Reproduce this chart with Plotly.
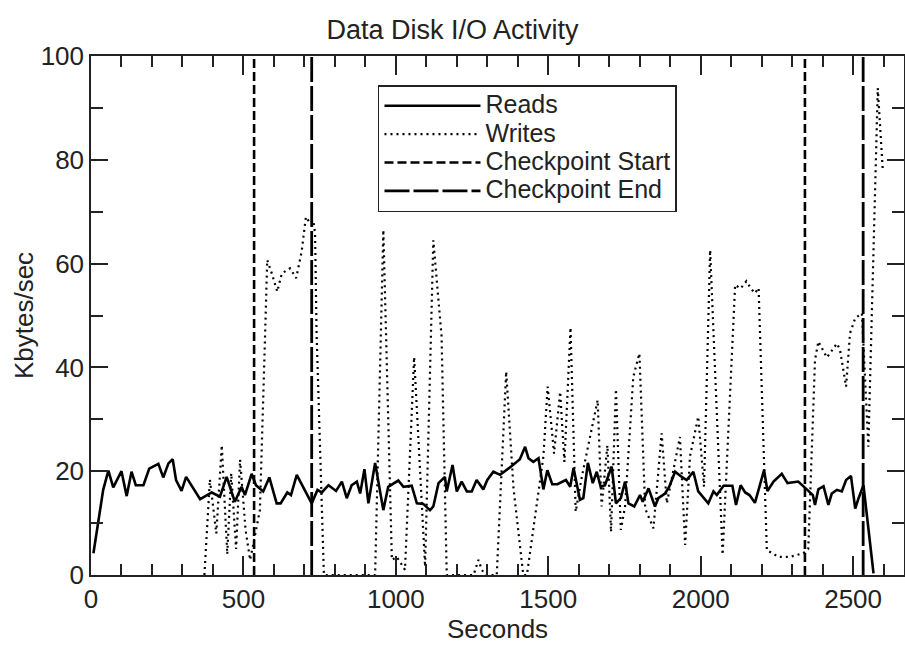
import plotly.graph_objects as go

# ---- data ----
reads_t = [8, 40, 57, 73, 100, 117, 133, 147, 172, 191, 221, 237, 254, 268, 279, 297, 312, 358, 396, 423,
           445, 472, 494, 505, 527, 541, 565, 585, 609, 622, 644, 656, 675, 724, 743, 757, 779, 804, 823, 839,
           855, 872, 883, 897, 910, 932, 959, 975, 1008, 1025, 1052, 1069, 1090, 1112, 1123, 1140, 1161, 1167,
           1186, 1200, 1216, 1233, 1249, 1265, 1287, 1300, 1320, 1342, 1378, 1407, 1424, 1435, 1451, 1468, 1484,
           1497, 1513, 1530, 1558, 1572, 1583, 1594, 1604, 1615, 1630, 1646, 1659, 1672, 1686, 1708, 1722, 1738,
           1752, 1763, 1782, 1801, 1810, 1829, 1850, 1861, 1883, 1897, 1916, 1938, 1954, 1976, 1992, 2025, 2042,
           2053, 2075, 2104, 2116, 2131, 2146, 2160, 2178, 2208, 2219, 2239, 2266, 2285, 2320, 2348, 2368, 2375,
           2386, 2403, 2419, 2430, 2447, 2463, 2477, 2493, 2507, 2518, 2534, 2567]
reads_v = [4.2, 16.4, 20.1, 16.9, 20.0, 15.2, 19.9, 17.3, 17.3, 20.5, 21.4, 18.8, 21.5, 22.3, 18.3, 16.2, 18.9, 14.6, 15.9, 15.1,
           18.9, 14.1, 17.0, 15.4, 19.5, 17.3, 16.1, 18.8, 13.8, 13.8, 15.9, 15.4, 19.3, 13.8, 16.4, 15.9, 17.3, 16.2, 18.0, 14.8,
           17.3, 18.0, 15.7, 20.4, 13.8, 21.6, 12.5, 17.0, 18.2, 17.0, 17.2, 13.8, 13.7, 12.5, 13.2, 17.7, 18.9, 16.1,
           21.2, 16.1, 18.0, 16.1, 16.1, 18.3, 16.5, 18.3, 19.9, 19.3, 20.9, 22.3, 24.7, 22.5, 21.8, 22.5, 16.5,
           20.2, 17.5, 17.5, 18.3, 17.0, 20.6, 17.3, 14.5, 14.8, 21.6, 17.7, 19.9, 17.0, 17.3, 20.9, 13.8, 14.8,
           18.0, 13.8, 13.2, 15.4, 14.1, 16.7, 13.2, 14.8, 15.7, 17.0, 19.9, 18.9, 18.3, 19.9, 16.1, 13.8, 16.1,
           15.4, 17.2, 17.2, 13.5, 17.3, 15.9, 15.4, 13.9, 20.2, 16.2, 18.0, 19.5, 17.7, 18.0, 16.5, 15.4, 13.5,
           16.5, 17.1, 13.5, 15.7, 16.4, 16.1, 18.3, 19.1, 12.8, 14.8, 17.3, 0.3]

writes_t = [372, 390, 411, 429, 447, 460, 476, 489, 507, 522, 535, 554, 571, 578, 593, 611, 626, 653, 673, 691,
            705, 719, 729, 735, 740, 764, 932, 959, 987, 1003, 1030, 1060, 1096, 1123, 1150, 1167, 1255, 1271,
            1282, 1295, 1331, 1362, 1386, 1418, 1430, 1484, 1498, 1519, 1539, 1553, 1573, 1590, 1610, 1662, 1675,
            1694, 1706, 1722, 1738, 1752, 1779, 1799, 1818, 1845, 1872, 1889, 1932, 1949, 1965, 1992, 2011, 2031,
            2072, 2113, 2131, 2150, 2165, 2178, 2190, 2217, 2255, 2293, 2337, 2353, 2375, 2386, 2414, 2447, 2457,
            2477, 2490, 2507, 2529, 2550, 2581, 2597]
writes_v = [0.0, 18.4, 8.0, 25.0, 4.0, 19.6, 5.0, 22.2, 8.7, 2.9, 6.7, 12.5, 46.0, 60.7, 58.1, 54.6, 58.1, 59.1, 57.2, 62.3,
            69.0, 67.8, 68.4, 65.8, 46.6, 0.0, 0.0, 66.5, 2.9, 3.5, 1.0, 42.0, 1.6, 64.5, 46.0, 0.0, 0.0, 2.9,
            1.0, 0.0, 0.0, 39.2, 16.7, 0.0, 0.0, 22.8, 36.3, 23.4, 35.3, 21.8, 47.7, 12.2, 18.9, 33.7, 13.2,
            25.0, 8.3, 35.8, 8.7, 13.2, 38.2, 42.7, 12.8, 9.0, 27.3, 13.8, 26.6, 5.8, 22.9, 30.5, 17.0, 62.6,
            3.9, 55.9, 55.2, 56.6, 55.2, 54.3, 55.3, 4.8, 3.5, 3.5, 4.2, 5.1, 41.4, 45.0, 41.9, 44.6, 43.4,
            36.3, 46.6, 49.5, 50.4, 24.7, 93.8, 78.4]

checkpoint_start = [535, 2342]
checkpoint_end = [724, 2533]
y_span = [0, 100]

x_ticks = [0, 500, 1000, 1500, 2000, 2500]
y_ticks = [0, 20, 40, 60, 80, 100]

series_names = ["Reads", "Writes", "Checkpoint Start", "Checkpoint End"]


def vlines(xs):
    vx, vy = [], []
    for v in xs:
        vx += [v, v, None]
        vy += [y_span[0], y_span[1], None]
    return vx, vy


def legend_name(s):
    # large text, compact legend rows
    return '<span style="font-size:25px">%s</span>' % s


FONT = "Liberation Sans, Arial, Helvetica, sans-serif"
TXT = "#222222"

fig = go.Figure()
fig.add_trace(go.Scatter(x=reads_t, y=reads_v, mode="lines", name=legend_name(series_names[0]),
                         line=dict(color="black", width=2.6)))
fig.add_trace(go.Scatter(x=writes_t, y=writes_v, mode="lines", name=legend_name(series_names[1]),
                         line=dict(color="black", width=2.2, dash="2px,4px")))
sx, sy = vlines(checkpoint_start)
fig.add_trace(go.Scatter(x=sx, y=sy, mode="lines", name=legend_name(series_names[2]),
                         line=dict(color="black", width=2.6, dash="9px,4px")))
ex, ey = vlines(checkpoint_end)
fig.add_trace(go.Scatter(x=ex, y=ey, mode="lines", name=legend_name(series_names[3]),
                         line=dict(color="black", width=2.8, dash="25px,4px")))

axis_common = dict(showline=True, linecolor="#222222", linewidth=1.5, mirror="ticks",
                   ticks="inside", tickcolor="#222222", tickwidth=1.5, showgrid=False,
                   zeroline=False, automargin=False,
                   tickfont=dict(family=FONT, size=26, color=TXT))

fig.update_xaxes(range=[0, 2667], tickvals=x_ticks, ticklen=19,
                 minor=dict(dtick=100, ticklen=11, ticks="inside", tickcolor="#222222", tickwidth=1.5),
                 title=dict(text="Seconds", font=dict(family=FONT, size=26, color=TXT), standoff=5),
                 **axis_common)
fig.update_yaxes(range=[0, 100], tickvals=y_ticks, ticklen=17,
                 minor=dict(dtick=10, ticklen=12, ticks="inside", tickcolor="#222222", tickwidth=1.5),
                 title=dict(text="Kbytes/sec", font=dict(family=FONT, size=26, color=TXT), standoff=0),
                 **axis_common)

fig.update_layout(
    width=905, height=648,
    margin=dict(l=91, r=1, t=56, b=73, autoexpand=False),
    paper_bgcolor="white", plot_bgcolor="white",
    title=dict(text="Data Disk I/O Activity", x=0.5, xanchor="center", y=0.954, yanchor="middle",
               font=dict(family=FONT, size=27, color=TXT), automargin=False),
    legend=dict(x=0.353, y=0.944, xanchor="left", yanchor="top",
                bgcolor="white", bordercolor="#222222", borderwidth=1.5,
                font=dict(family=FONT, size=19.5, color=TXT), tracegroupgap=0,
                itemwidth=96),
    showlegend=True,
)

fig.write_html("out.html", config={"displayModeBar": False},
               post_script="document.body.style.margin='0px';")
